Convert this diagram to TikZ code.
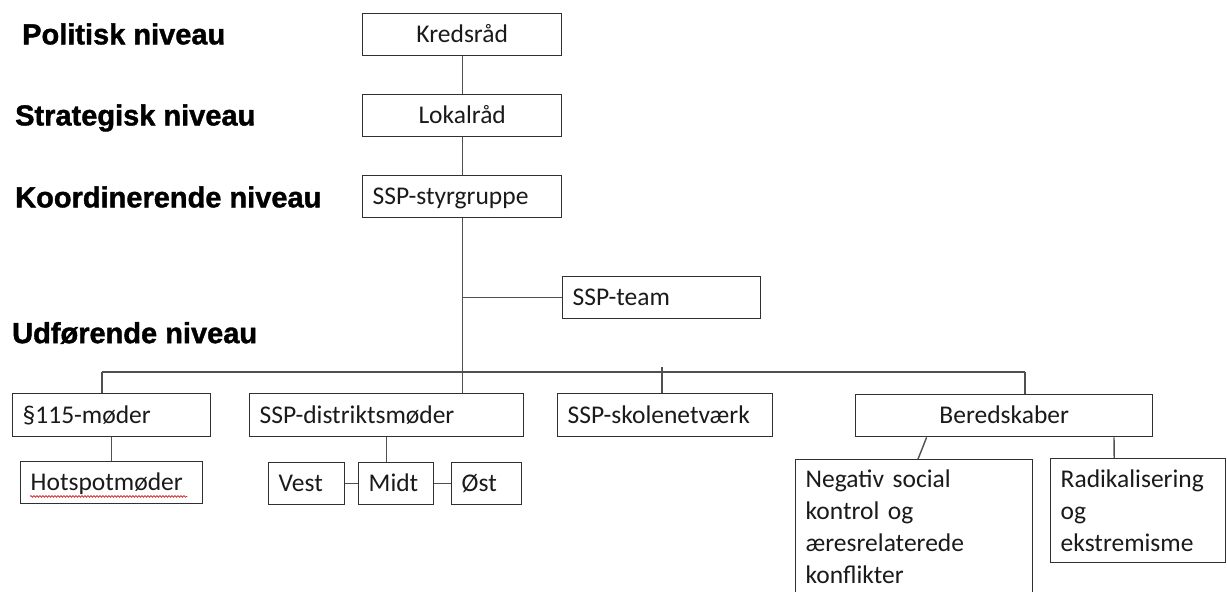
\documentclass[tikz,border=0pt]{standalone}
\usepackage{fontspec}
\setmainfont{Carlito}
\newfontfamily\headfont{Liberation Sans}[BoldFeatures={FakeBold=1.3}]
\usetikzlibrary{calc,decorations.pathmorphing}
\definecolor{linegray}{HTML}{505050}
\definecolor{boxline}{HTML}{303030}
\definecolor{txt}{HTML}{1A1A1A}
\begin{document}
\begin{tikzpicture}[x=1pt,y=-1pt,
  box/.style={draw=boxline, line width=1.4pt, anchor=north west, inner xsep=10pt, inner ysep=0pt,
    text=txt, font=\fontsize{25.5}{32}\selectfont, align=left},
  sbox/.style={box, minimum height=42pt, text height=20pt, text depth=4pt},
  tallbox/.style={box, inner ysep=10pt},
  conn/.style={draw=linegray, line width=1.4pt},
  lvl/.style={anchor=west, inner sep=0pt, text=black, font=\headfont\bfseries\fontsize{29}{34}\selectfont}]
\clip (0,0) rectangle (1227,592);
\fill[white] (0,0) rectangle (1227,592);

% level headings
\node[lvl] (politisk) at (22,34) {Politisk niveau};
\node[lvl] (strategisk) at (15,118) {Strategisk niveau};
\node[lvl] (koord) at (15,197) {Koordinerende niveau};
\node[lvl] (udf) at (12,333) {Udførende niveau};

% boxes
\node[sbox, text width=179pt, align=center] (kreds) at (362,13) {Kredsråd};
\node[sbox, text width=179pt, align=center] (lokal) at (362,94) {Lokalråd};
\node[sbox, text width=179pt] (styr) at (362,175) {SSP-styrgruppe};
\node[sbox, text width=178pt] (team) at (562,276) {SSP-team};
\node[sbox, text width=178pt, minimum height=43pt] (s115) at (12,393) {§115-møder};
\node[sbox, text width=162pt] (hot) at (20,461) {Hotspotmøder};
\node[sbox, text width=254pt, minimum height=43pt] (distrikt) at (249,393) {SSP-distriktsmøder};
\node[sbox, text width=56pt] (vest) at (268,462) {Vest};
\node[sbox, text width=55pt] (midt) at (358,462) {Midt};
\node[sbox, text width=50pt] (oest) at (451,462) {Øst};
\node[sbox, text width=195pt, minimum height=43pt] (skole) at (557,393) {SSP-skolenetværk};
\node[sbox, text width=277pt, align=center] (bered) at (855,394) {Beredskaber};
\node[tallbox, text width=217pt] (neg) at (795,459) {Negativ social\\kontrol og\\æresrelaterede\\konflikter\rule[-30pt]{0pt}{0pt}};
\node[tallbox, inner ysep=11pt, text width=155pt] (radik) at (1050,458) {Radikalisering\\og\\ekstremisme};

% spell-check squiggle
\draw[red!80!black, line width=0.6pt, decorate, decoration={snake, amplitude=0.9pt, segment length=3pt}]
  ($(hot.south west)+(10,-8)$) -- ($(hot.south east)+(-16,-8)$);

% connectors
\coordinate (hL) at (102,372);
\coordinate (hR) at (1025,372);
\coordinate (skTop) at (662,367);
\draw[conn] (kreds.south) -- (lokal.south |- lokal.north);
\draw[conn] (lokal.south) -- (styr.south |- styr.north);
\draw[conn] (styr.south) -- (styr.south |- distrikt.north);
\draw[conn] (styr.south |- team.west) -- (team.west);
\draw[conn] (hL) -- (hR);
\draw[conn] (hL) -- (hL |- s115.north);
\draw[conn] (skTop) -- (skTop |- skole.north);
\draw[conn] (hR) -- (hR |- bered.north);
\draw[conn] (s115.south) -- (hot.north);
\draw[conn] (distrikt.south) -- (distrikt.south |- midt.north);
\draw[conn] (vest.east) -- (vest.east -| midt.west);
\draw[conn] (midt.east) -- (midt.east -| oest.west);
\draw[conn] ($(bered.south west)!0.24!(bered.south east)$) -- ($(neg.north west)!0.516!(neg.north east)$);
\draw[conn] ($(bered.south west)!0.868!(bered.south east)$) -- ($(radik.north west)!0.364!(radik.north east)$);
\end{tikzpicture}
\end{document}
